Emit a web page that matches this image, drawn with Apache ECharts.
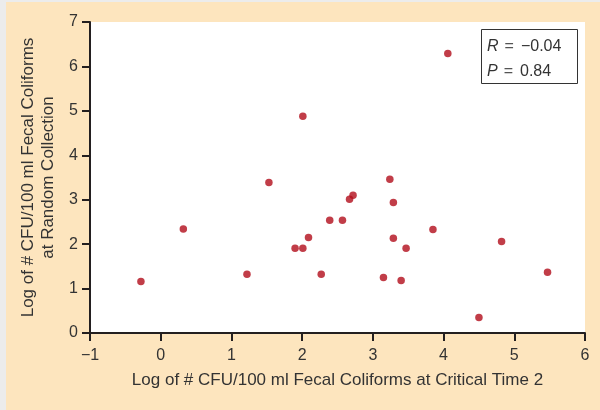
<!DOCTYPE html>
<html>
<head>
<meta charset="utf-8">
<script src="https://cdn.jsdelivr.net/npm/echarts@6/dist/echarts.min.js"></script>
<style>
  html, body { margin: 0; padding: 0; background: #ececec; }
  #chart { position: absolute; left: 6px; top: 2px; width: 594px; height: 408px; }
</style>
</head>
<body>
<div id="chart"></div>
<script>
// log CFU/100 ml at critical time 2 (x) vs at random collection (y)
const xCritical = [-0.28, 0.32, 1.22, 1.90, 1.53, 3.24, 2.72, 2.67, 3.29, 2.39, 2.57, 2.09,
  3.29, 2.01, 3.47, 2.27, 3.15, 3.40, 3.85, 4.82, 5.47, 4.50, 4.06, 2.01]
const yRandom = [1.16, 2.34, 1.32, 1.91, 3.39, 3.46, 3.10, 3.01, 2.94, 2.54, 2.54, 2.15,
  2.13, 1.91, 1.91, 1.32, 1.25, 1.18, 2.33, 2.06, 1.37, 0.35, 6.29, 4.88]
const statNames = ['R', 'P']
const statValues = ['−0.04', '0.84']

const points = xCritical.map((x, i) => [x, yRandom[i]])
const minus = v => String(v).replace('-', '−')

const axisCommon = {
  axisLine: { show: true, onZero: false, lineStyle: { color: '#231f20', width: 2 } },
  axisTick: { show: true, inside: false, length: 8, lineStyle: { color: '#231f20', width: 2 } },
  axisLabel: { color: '#333', fontSize: 16, fontFamily: 'Liberation Sans', margin: 12, formatter: minus },
  splitLine: { show: false },
  nameLocation: 'middle',
  nameTextStyle: { color: '#333', fontSize: 17, fontFamily: 'Liberation Sans', lineHeight: 20 }
}

const chart = echarts.init(document.getElementById('chart'))
chart.setOption({
  backgroundColor: '#fde5be',
  animation: false,
  grid: {
    left: 84, right: 15, top: 20, bottom: 77,
    show: true, backgroundColor: '#fff', borderWidth: 0
  },
  xAxis: Object.assign({}, axisCommon, {
    type: 'value', min: -1, max: 6, interval: 1,
    name: 'Log of # CFU/100 ml Fecal Coliforms at Critical Time 2',
    nameGap: 37,
    axisLabel: Object.assign({}, axisCommon.axisLabel, { margin: 15 })
  }),
  yAxis: Object.assign({}, axisCommon, {
    type: 'value', min: 0, max: 7, interval: 1,
    name: 'Log of # CFU/100 ml Fecal Coliforms\nat Random Collection',
    nameGap: 31
  }),
  series: [{
    type: 'scatter',
    data: points,
    symbolSize: 7.5,
    itemStyle: { color: '#b10d1a' }
  }],
  graphic: [
    {
      type: 'rect', left: 475, top: 27,
      shape: { width: 96, height: 54 },
      style: { fill: '#fff', stroke: '#333', lineWidth: 1 }
    },
    {
      type: 'text', left: 481, top: 32,
      style: {
        text: statNames.map((n, i) => '{i|' + n + '}{e|=}' + statValues[i]).join('\n'),
        fill: '#333', font: '16px Liberation Sans', lineHeight: 25,
        rich: {
          i: { fontStyle: 'italic', fontSize: 16, fontFamily: 'Liberation Sans', fill: '#333', lineHeight: 25 },
          e: { fontSize: 16, fontFamily: 'Liberation Sans', fill: '#555', lineHeight: 25, padding: [0, 7, 0, 6] }
        }
      }
    }
  ]
})
</script>
</body>
</html>
